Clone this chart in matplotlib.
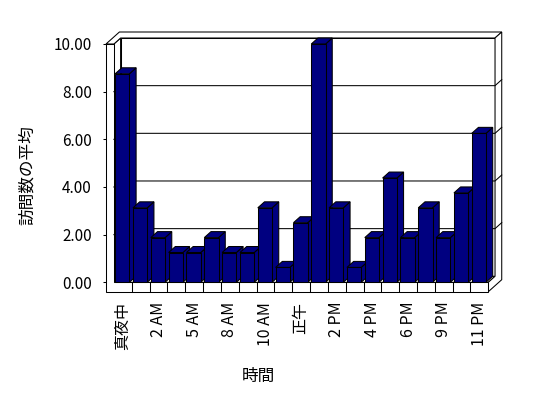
import matplotlib
matplotlib.use('Agg')
import matplotlib.pyplot as plt
from matplotlib.patches import Polygon

plt.rcParams['font.family'] = ['Noto Sans CJK JP', 'DejaVu Sans']

# ---- data ----
hours = ['真夜中', '1 AM', '2 AM', '3 AM', '5 AM', '6 AM', '8 AM', '9 AM',
         '10 AM', '11 AM', '正午', '1 PM', '2 PM', '3 PM', '4 PM', '5 PM',
         '6 PM', '7 PM', '9 PM', '10 PM', '11 PM']
avg_visits = [8.75, 3.125, 1.875, 1.25, 1.25, 1.875, 1.25, 1.25, 3.125, 0.625,
              2.5, 10.0, 3.125, 0.625, 1.875, 4.375, 1.875, 3.125, 1.875,
              3.75, 6.25]
y_ticks = [0, 2, 4, 6, 8, 10]
x_title = '時間'
y_title = '訪問数の平均'

# ---- layout (pixels) ----
W, H, DPI = 548, 398, 100
X0, Y0 = 113.9, 282.3
CW, U = 17.83, 23.83
n = len(hours)

fig = plt.figure(figsize=(W / DPI, H / DPI), dpi=DPI)
fig.patch.set_facecolor('white')
ax = fig.add_axes([X0 / W, (H - Y0) / H, n * CW / W, 10 * U / H])
ax.set_xlim(-0.5, n - 0.5)
ax.set_ylim(0, 10)
ax.patch.set_visible(False)
for s in ax.spines.values():
    s.set_visible(False)

DX = 6.7 / CW
DY = 6.0 / U
T = 7.9 / CW
FT = 9.4 / U
L, R = -0.5, n - 0.5
TOP = y_ticks[-1]
LW = 0.75

def poly(pts, fc='white', z=1):
    p = Polygon(pts, closed=True, facecolor=fc, edgecolor='black',
                linewidth=LW, clip_on=False, zorder=z, joinstyle='miter')
    ax.add_patch(p)

# walls / floor
poly([(L + DX, DY), (R + DX, DY), (R + DX, TOP + DY), (L + DX, TOP + DY)])
poly([(L, 0), (L + DX, DY), (L + DX, TOP + DY), (L, TOP)])
poly([(L, 0), (R, 0), (R + DX, DY), (L + DX, DY)])
poly([(L - T, TOP), (L, TOP), (L + DX, TOP + DY), (R + DX, TOP + DY),
      (R + 2 * DX, TOP + 2 * DY), (L - T + 2 * DX, TOP + 2 * DY)])
poly([(R, -FT), (R, 0), (R + DX, DY), (R + DX, TOP + DY),
      (R + 2 * DX, TOP + 2 * DY), (R + 2 * DX, -FT + 2 * DY)])
poly([(L - T, -FT), (R, -FT), (R, 0), (L, 0), (L, TOP), (L - T, TOP)])

# gridlines
for yv in y_ticks[1:-1]:
    ax.plot([L, L + DX, R + DX, R + 2 * DX],
            [yv, yv + DY, yv + DY, yv + 2 * DY],
            color='black', lw=LW, clip_on=False, zorder=2)

# category dividers on floor front
ax.vlines([k - 0.5 for k in range(1, n)], -FT, 0, colors='black',
          linewidth=LW, clip_on=False, zorder=2)

# bars
BW = 0.8
xs = [i - 0.03 for i in range(n)]
bars = ax.bar(xs, avg_visits, width=BW, color='#000080', edgecolor='black',
              linewidth=LW)
for i, (b, v) in enumerate(zip(bars, avg_visits)):
    xl = xs[i] - BW / 2
    xr = xs[i] + BW / 2
    b.set_zorder(11 + 3 * i)
    b.set_clip_on(False)
    poly([(xr, 0), (xr + DX, DY), (xr + DX, v + DY), (xr, v)],
         fc='#000080', z=10 + 3 * i)
    poly([(xl, v), (xr, v), (xr + DX, v + DY), (xl + DX, v + DY)],
         fc='#000080', z=10 + 3 * i)

# axes ticks
ax.spines['left'].set_position(('outward', T * CW * 72 / DPI))
ax.set_yticks(y_ticks)
ax.set_yticklabels([f'{v:.2f}' for v in y_ticks], fontsize=11)
ax.tick_params(axis='y', direction='out', length=2.2, width=LW,
               pad=8.0, colors='black')
ax.set_xticks(range(0, n, 2))
ax.set_xticklabels(hours[::2], rotation=90, fontsize=11.5, va='top',
                   ha='center')
ax.tick_params(axis='x', length=0, pad=14)

fig.text(258 / W, 1 - 376 / H, x_title, ha='center', va='center', fontsize=12)
fig.text(27.5 / W, 1 - 175 / H, y_title, ha='center', va='center',
         fontsize=12, rotation=90)

fig.savefig('out.png', dpi=DPI)
